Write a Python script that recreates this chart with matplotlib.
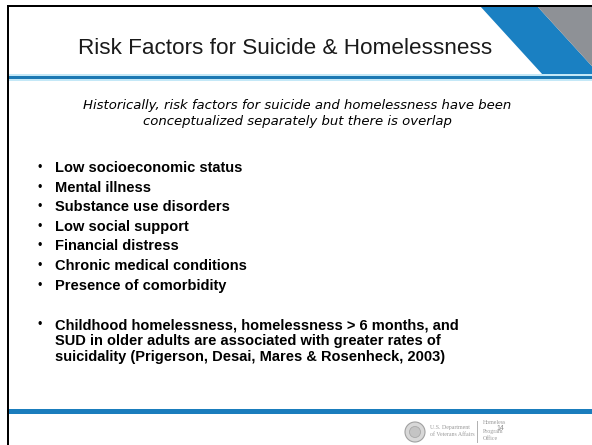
import matplotlib
matplotlib.use("Agg")
import matplotlib.pyplot as plt
from matplotlib.patches import Polygon, Rectangle, Circle

title = "Risk Factors for Suicide & Homelessness"
subtitle_lines = [
    "Historically, risk factors for suicide and homelessness have been",
    "conceptualized separately but there is overlap",
]
bullets = [
    "Low socioeconomic status",
    "Mental illness",
    "Substance use disorders",
    "Low social support",
    "Financial distress",
    "Chronic medical conditions",
    "Presence of comorbidity",
]
paragraph_lines = [
    "Childhood homelessness, homelessness > 6 months, and",
    "SUD in older adults are associated with greater rates of",
    "suicidality (Prigerson, Desai, Mares & Rosenheck, 2003)",
]
page_number = "14"

W, H = 592, 445
fig = plt.figure(figsize=(W / 100, H / 100), dpi=100)
ax = fig.add_axes([0, 0, 1, 1])
ax.set_xlim(0, W)
ax.set_ylim(H, 0)
ax.axis("off")
fig.patch.set_facecolor("white")

BLUE = "#1a80c2"
GREY = "#8e9196"

# header diagonal shapes
ax.add_patch(Polygon([(480, 6), (537, 6), (600, 75), (543, 75)], closed=True,
                     facecolor=BLUE, edgecolor="none"))
ax.add_patch(Polygon([(537, 6), (600, 6), (600, 75)], closed=True,
                     facecolor=GREY, edgecolor="none"))

# header separator line with glow
ax.add_patch(Rectangle((8, 73.5), W, 7, facecolor="#c4e8f7", edgecolor="none"))
ax.add_patch(Rectangle((8, 75.5), W, 3, facecolor="#1b78b3", edgecolor="none"))

# footer line
ax.add_patch(Rectangle((8, 409), W, 5, facecolor="#1a7dbd", edgecolor="none"))

# borders
ax.add_patch(Rectangle((7, 4.5), W, 2.5, facecolor="black", edgecolor="none"))
ax.add_patch(Rectangle((6.5, 4.5), 2.8, H, facecolor="black", edgecolor="none"))

# title
ax.text(285, 48, title, ha="center", va="center", fontsize=16.2,
        family="Liberation Sans", color="#1a1a1a")

# subtitle
for i, line in enumerate(subtitle_lines):
    ax.text(297, 106 + i * 15, line, ha="center", va="center", fontsize=9.5,
            family="DejaVu Sans", style="oblique", color="black")

# bullets
y0, dy = 168, 19.6
for i, b in enumerate(bullets):
    y = y0 + i * dy
    ax.text(40, y, "\u2022", ha="center", va="center", fontsize=9,
            family="Liberation Sans", color="black")
    ax.text(55, y, b, ha="left", va="center", fontsize=10.5, weight="bold",
            family="Liberation Sans", color="black")

py0 = 325
for i, line in enumerate(paragraph_lines):
    y = py0 + i * 16
    if i == 0:
        ax.text(40, y, "\u2022", ha="center", va="center", fontsize=9,
                family="Liberation Sans", color="black")
    ax.text(55, y, line, ha="left", va="center", fontsize=10.5, weight="bold",
            family="Liberation Sans", color="black")

# footer logo
ax.add_patch(Circle((415, 432), 10, facecolor="#d8d8d8", edgecolor="#a0a0a0", lw=0.8))
ax.add_patch(Circle((415, 432), 5.5, facecolor="#c4c4c4", edgecolor="#a8a8a8", lw=0.6))
ax.text(430, 427, "U.S. Department", fontsize=4.2, family="Liberation Serif",
        color="#9a9a9a", va="center", ha="left")
ax.text(430, 435, "of Veterans Affairs", fontsize=4.2, family="Liberation Serif",
        color="#9a9a9a", va="center", ha="left")
ax.plot([477, 477], [421, 442], color="#b0b0b0", lw=0.7)
ax.text(483, 423, "Homeless", fontsize=4.2, family="Liberation Serif",
        color="#9a9a9a", va="center", ha="left")
ax.text(483, 431, "Program", fontsize=4.2, family="Liberation Serif",
        color="#9a9a9a", va="center", ha="left")
ax.text(483, 439, "Office", fontsize=4.2, family="Liberation Serif",
        color="#9a9a9a", va="center", ha="left")
ax.text(496, 429, page_number, fontsize=5, family="Liberation Sans",
        color="#8a8a8a", va="center", ha="left")

fig.savefig("out.png", dpi=100, facecolor="white")
